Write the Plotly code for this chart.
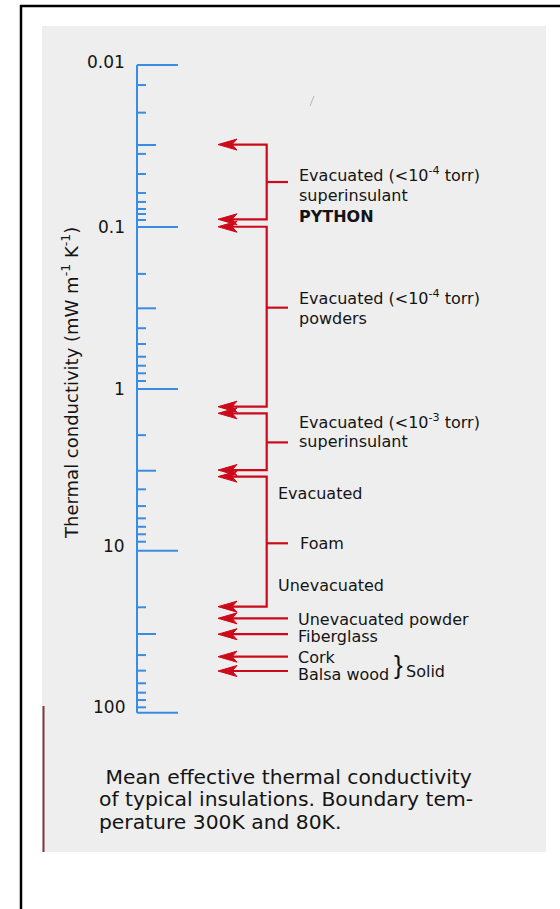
import math
import plotly.graph_objects as go

# ---- data (thermal conductivity, mW m^-1 K^-1) ----
decades = [0.01, 0.1, 1, 10, 100]
decade_labels = ["0.01", "0.1", "1", "10", "100"]
mid_ticks = [0.0312, 0.318, 3.20, 32.6]
minor_ticks = [0.0133, 0.0197, 0.0354, 0.0471, 0.0617, 0.0701, 0.0775, 0.0832, 0.0906,
               0.195, 0.422, 0.528, 0.633, 0.719, 0.801, 0.894,
               1.93, 4.17, 5.29, 6.30, 7.10, 7.90, 8.78,
               22.3, 44.0, 54.9, 65.7, 75.1, 83.4, 92.5]

# bracketed ranges: best value, worst value, value at the side tick
bracket_low = [0.031, 0.0997, 1.415, 3.48]
bracket_high = [0.0897, 1.288, 3.17, 22.1]
bracket_mark = [0.0528, 0.315, 2.14, 8.98]

# single materials
single_names = ["Unevacuated powder", "Fiberglass", "Cork", "Balsa wood"]
single_values = [26.1, 32.7, 45.0, 55.2]

# ---- geometry of the page ----
W, H = 560, 909
PX_PER_DECADE = 161.96
PX_AT_ONE = 388.9
y_top = -PX_AT_ONE / PX_PER_DECADE
y_bot = (H - PX_AT_ONE) / PX_PER_DECADE

RULER_X = 137
MAJOR_END, MID_END, MINOR_END = 178, 156, 146
BRACKET_X = 266.7
STUB_END = 288
TIP_X = 218
HEAD_LEN = 19
NOTCH = 14
HEAD_HALF = 5.5

BLUE = "#3a8ce2"
RED = "#cc0a1a"
INK = "#141414"
FONT = "DejaVu Sans"


def px(x):
    return x / W


def py(y):
    return 1 - y / H


def shifted(v, dpx):
    # value displaced by dpx screen pixels along the (reversed) log axis
    return v * 10 ** (dpx / PX_PER_DECADE)


fig = go.Figure()

# ruler
rx, ry = [RULER_X, RULER_X], [decades[0], decades[-1]]
for vals, end in ((decades, MAJOR_END), (mid_ticks, MID_END), (minor_ticks, MINOR_END)):
    for v in vals:
        rx += [None, RULER_X, end]
        ry += [None, v, v]
fig.add_trace(go.Scatter(x=rx, y=ry, mode="lines",
                         line=dict(color=BLUE, width=2), hoverinfo="skip"))

# red leader lines
lx, ly = [], []
for lo, hi, mk in zip(bracket_low, bracket_high, bracket_mark):
    lx += [TIP_X + NOTCH, BRACKET_X, BRACKET_X, TIP_X + NOTCH, None,
           BRACKET_X, STUB_END, None]
    ly += [lo, lo, hi, hi, None, mk, mk, None]
for v in single_values:
    lx += [STUB_END, TIP_X + NOTCH, None]
    ly += [v, v, None]
fig.add_trace(go.Scatter(x=lx, y=ly, mode="lines",
                         line=dict(color=RED, width=2.2), hoverinfo="skip"))

# arrowheads
arrow_vals = bracket_low + bracket_high + single_values
hx, hy = [], []
for v in arrow_vals:
    hx += [TIP_X, TIP_X + HEAD_LEN, TIP_X + NOTCH, TIP_X + HEAD_LEN, TIP_X, None]
    hy += [v, shifted(v, -HEAD_HALF), v, shifted(v, HEAD_HALF), v, None]
fig.add_trace(go.Scatter(x=hx, y=hy, mode="lines", fill="toself",
                         fillcolor=RED, line=dict(color=RED, width=1),
                         hoverinfo="skip"))

ann = []


def text(t, x, y, size=16, xanchor="left", bold=False, **kw):
    ann.append(dict(text=f"<b>{t}</b>" if bold else t, x=x, y=y,
                    xref="paper", yref="paper", xanchor=xanchor, yanchor="middle",
                    showarrow=False, borderpad=0,
                    font=dict(family=FONT, size=size, color=INK), **kw))


# decade labels
label_lift = [3, 0, 0, 5, 6]
for v, lab, lift in zip(decades, decade_labels, label_lift):
    ann.append(dict(text=lab, x=126, y=math.log10(v), xref="x", yref="y",
                    xanchor="right", yanchor="middle", yshift=lift, showarrow=False,
                    borderpad=0, font=dict(family=FONT, size=17, color=INK)))

# axis title
text("Thermal conductivity (mW m<sup>-1</sup> K<sup>-1</sup>)", px(70), py(383),
     size=18, xanchor="center", textangle=-90)

# bracket captions
text("Evacuated (&lt;10<sup>-4</sup> torr)", px(298), py(175))
text("superinsulant", px(298), py(195))
text("PYTHON", px(298), py(216), bold=True)
text("Evacuated (&lt;10<sup>-4</sup> torr)", px(298), py(297))
text("powders", px(298), py(318))
text("Evacuated (&lt;10<sup>-3</sup> torr)", px(298), py(421))
text("superinsulant", px(298), py(442))
text("Evacuated", px(277), py(494))
text("Foam", px(299), py(543))
text("Unevacuated", px(277), py(585))

# single material captions
for name, v, dy in zip(single_names, single_values, [-1, -2, -1, -3]):
    ann.append(dict(text=name, x=297, y=math.log10(v), xref="x", yref="y",
                    xanchor="left", yanchor="middle", yshift=dy, showarrow=False,
                    borderpad=0, font=dict(family=FONT, size=16, color=INK)))
ann.append(dict(text="}", x=393, y=math.log10(single_values[2] * single_values[3]) / 2,
                xref="x", yref="y", xanchor="left", yanchor="middle", yshift=-1,
                showarrow=False, borderpad=0,
                font=dict(family="Liberation Sans", size=26, color=INK)))
text("Solid", px(405), py(671))

# figure caption
text(" Mean effective thermal conductivity", px(98), py(777), size=20.3)
text("of typical insulations. Boundary tem-", px(98), py(799), size=20.3)
text("perature 300K and 80K.", px(98), py(822), size=20.3)

shapes = [
    # page frame
    dict(type="line", xref="paper", yref="paper", x0=px(20), x1=1, y0=py(6), y1=py(6),
         line=dict(color="black", width=2.5)),
    dict(type="line", xref="paper", yref="paper", x0=px(21), x1=px(21), y0=py(5), y1=0,
         line=dict(color="black", width=2.5)),
    # printed panel
    dict(type="rect", xref="paper", yref="paper", x0=px(42), x1=px(546), y0=py(852),
         y1=py(26), fillcolor="#eeeeee", line=dict(width=0), layer="below"),
    dict(type="line", xref="paper", yref="paper", x0=px(43.5), x1=px(43.5), y0=py(852),
         y1=py(706), line=dict(color="#7a3a3a", width=2), layer="below"),
    dict(type="line", xref="paper", yref="paper", x0=px(310), x1=px(314), y0=py(106),
         y1=py(96), line=dict(color="#b8b8b8", width=1), layer="below"),
]

fig.update_layout(
    width=W, height=H, margin=dict(l=0, r=0, t=0, b=0),
    paper_bgcolor="white", plot_bgcolor="rgba(0,0,0,0)",
    showlegend=False, annotations=ann, shapes=shapes,
    xaxis=dict(range=[0, W], visible=False, fixedrange=True),
    yaxis=dict(type="log", range=[y_bot, y_top], visible=False, fixedrange=True),
)

fig.write_html("out.html")
